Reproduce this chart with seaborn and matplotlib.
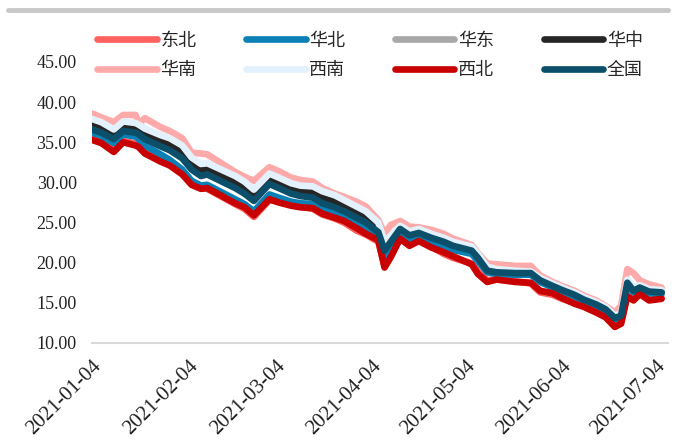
import pandas as pd
import matplotlib.pyplot as plt
import matplotlib.dates as mdates
from matplotlib.lines import Line2D
import seaborn as sns

# Datas (eixo comum a todas as regiões)
datas = ['2021-01-04', '2021-01-07', '2021-01-11', '2021-01-14', '2021-01-18', '2021-01-19',
         '2021-01-21', '2021-01-26', '2021-01-29', '2021-02-02', '2021-02-05', '2021-02-08',
         '2021-02-10', '2021-02-19', '2021-02-22', '2021-02-25', '2021-03-02', '2021-03-05',
         '2021-03-09', '2021-03-12', '2021-03-16', '2021-03-19', '2021-03-23', '2021-03-26',
         '2021-03-30', '2021-04-02', '2021-04-06', '2021-04-08', '2021-04-10', '2021-04-13',
         '2021-04-16', '2021-04-19', '2021-04-23', '2021-04-27', '2021-04-30', '2021-05-06',
         '2021-05-08', '2021-05-11', '2021-05-14', '2021-05-20', '2021-05-25', '2021-05-28',
         '2021-06-01', '2021-06-04', '2021-06-08', '2021-06-11', '2021-06-15', '2021-06-18',
         '2021-06-21', '2021-06-23', '2021-06-25', '2021-06-27', '2021-06-29', '2021-07-02',
         '2021-07-06']

dongbei = [35.5, 35.0, 34.0, 35.2, 34.8, 34.5, 33.8, 32.8, 32.2, 31.2, 29.9, 29.3, 29.2, 27.3,
           26.7, 25.7, 27.8, 27.6, 27.3, 27.0, 26.7, 26.0, 25.5, 25.0, 24.0, 23.5, 22.6, 19.6,
           20.9, 23.1, 22.3, 22.8, 22.0, 21.1, 20.6, 19.9, 18.9, 17.8, 18.0, 17.7, 17.4, 16.3,
           16.0, 15.5, 15.0, 14.6, 14.0, 13.4, 12.3, 12.6, 16.0, 15.5, 16.2, 15.5, 15.6]
huabei = [36.2, 35.8, 34.9, 36.0, 35.7, 35.4, 34.6, 33.5, 32.8, 31.6, 30.2, 29.6, 29.7, 27.9,
          27.3, 26.4, 28.5, 28.1, 27.6, 27.4, 27.3, 26.7, 26.2, 25.8, 24.9, 24.4, 23.3, 20.9,
          22.0, 23.8, 22.9, 23.3, 22.6, 22.1, 21.6, 21.1, 20.2, 18.8, 18.6, 18.5, 18.5, 17.6,
          16.9, 16.4, 15.8, 15.2, 14.6, 14.0, 12.9, 13.2, 17.2, 16.3, 16.7, 16.2, 16.1]
huadong = [37.6, 37.1, 36.1, 37.2, 36.9, 36.6, 35.9, 35.0, 34.6, 33.6, 32.1, 31.3, 31.4, 29.8,
           29.1, 28.1, 30.2, 29.7, 29.1, 28.8, 28.7, 28.0, 27.5, 26.9, 26.1, 25.5, 24.2, 21.9,
           22.9, 24.4, 23.6, 23.9, 23.3, 22.8, 22.3, 21.8, 21.0, 19.6, 19.4, 19.2, 19.0, 18.0,
           17.4, 16.9, 16.4, 15.8, 15.1, 14.5, 13.4, 13.7, 17.6, 16.9, 17.1, 16.7, 16.6]
huazhong = [37.4, 37.0, 36.0, 37.1, 36.8, 36.6, 36.0, 35.2, 34.8, 33.8, 32.3, 31.5, 31.6, 30.0,
            29.3, 28.3, 30.4, 29.9, 29.2, 28.9, 28.8, 28.1, 27.6, 27.0, 26.2, 25.6, 24.3, 22.0,
            23.0, 24.4, 23.7, 24.0, 23.4, 22.9, 22.4, 21.8, 20.9, 19.3, 19.0, 18.9, 18.8, 17.9,
            17.3, 16.8, 16.2, 15.6, 15.0, 14.4, 13.3, 13.6, 17.7, 16.7, 17.0, 16.5, 16.4]
huanan = [38.6, 38.1, 37.5, 38.4, 38.4, 37.3, 38.0, 36.9, 36.4, 35.5, 33.7, 33.6, 33.5, 31.3,
          30.7, 30.2, 31.9, 31.4, 30.6, 30.3, 30.1, 29.3, 28.6, 28.2, 27.6, 27.0, 25.3, 23.6,
          24.7, 25.2, 24.5, 24.4, 24.1, 23.6, 23.0, 22.2, 21.2, 19.9, 19.8, 19.6, 19.6, 18.4,
          17.6, 17.1, 16.5, 15.9, 15.3, 14.6, 13.8, 14.6, 19.2, 18.7, 17.8, 17.3, 16.9]
xinan = [37.9, 37.5, 36.6, 37.6, 37.4, 37.2, 36.7, 35.9, 35.5, 34.6, 33.1, 32.3, 32.4, 30.8,
         30.1, 29.1, 31.1, 30.6, 29.9, 29.6, 29.5, 28.9, 28.4, 27.8, 27.0, 26.4, 25.0, 22.6,
         23.4, 24.6, 23.9, 24.2, 23.6, 23.1, 22.6, 22.0, 21.1, 19.5, 19.2, 19.0, 18.9, 18.1,
         17.4, 16.9, 16.3, 15.7, 15.1, 14.5, 13.4, 13.7, 17.9, 17.0, 17.2, 16.7, 16.6]
xibei = [35.3, 34.9, 33.8, 35.0, 34.6, 34.4, 33.6, 32.6, 32.1, 31.0, 29.7, 29.2, 29.3, 27.4,
         26.9, 25.9, 27.9, 27.5, 27.1, 26.9, 26.8, 26.1, 25.6, 25.2, 24.3, 23.6, 22.8, 19.4,
         20.7, 23.0, 22.1, 22.7, 21.9, 21.3, 20.8, 19.8, 18.6, 17.6, 17.9, 17.6, 17.5, 16.5,
         16.2, 15.6, 14.9, 14.5, 13.8, 13.2, 12.0, 12.4, 15.8, 15.3, 16.1, 15.3, 15.5]
quanguo = [36.6, 36.2, 35.4, 36.4, 36.2, 36.0, 35.4, 34.5, 34.0, 33.0, 31.6, 30.8, 31.0, 29.3,
           28.6, 27.7, 29.8, 29.3, 28.6, 28.3, 28.1, 27.4, 26.9, 26.4, 25.6, 25.0, 23.8, 21.5,
           22.6, 24.2, 23.4, 23.7, 23.1, 22.6, 22.1, 21.5, 20.6, 19.0, 18.8, 18.7, 18.7, 17.8,
           17.1, 16.6, 16.0, 15.4, 14.8, 14.2, 13.1, 13.4, 17.5, 16.5, 16.9, 16.4, 16.3]

regioes = ['东北', '华北', '华东', '华中', '华南', '西南', '西北', '全国']
series = [dongbei, huabei, huadong, huazhong, huanan, xinan, xibei, quanguo]
cores = ['#ff6060', '#0a80b4', '#a8a8a8', '#262626', '#ffaaaa', '#e2f1fb', '#c80000', '#0b4f6b']
ticks = ['2021-01-04', '2021-02-04', '2021-03-04', '2021-04-04', '2021-05-04',
         '2021-06-04', '2021-07-04']

# Tabela longa para o seaborn
df = pd.concat([pd.DataFrame({'data': pd.to_datetime(datas), 'valor': v, 'regiao': r})
                for r, v in zip(regioes, series)], ignore_index=True)

sns.set_style('white')
plt.rcParams['font.family'] = ['Liberation Serif', 'Noto Sans CJK SC']

fig = plt.figure(figsize=(6.75, 4.46), dpi=100)
ax = fig.add_axes([0.1363, 0.231, 0.853, 0.630])

sns.lineplot(data=df, x='data', y='valor', hue='regiao', hue_order=regioes,
             palette=dict(zip(regioes, cores)), linewidth=4.8, ax=ax)

handles, labels = ax.get_legend_handles_labels()
ax.get_legend().remove()

# reordenar para preencher por linha (4 colunas)
ordem = [0, 4, 1, 5, 2, 6, 3, 7]
fig.legend([handles[i] for i in ordem], [labels[i] for i in ordem], ncol=4,
           loc='upper left', bbox_to_anchor=(0.144, 0.927), frameon=False,
           fontsize=13, handlelength=3.3, handletextpad=0.2, columnspacing=2.75,
           labelspacing=0.7, borderpad=0, borderaxespad=0)

ax.set_ylim(10, 45)
ax.set_yticks(range(10, 46, 5))
ax.yaxis.set_major_formatter(plt.FormatStrFormatter('%.2f'))
ax.set_xlim(pd.Timestamp('2021-01-04'), pd.Timestamp('2021-07-08'))
ax.set_xticks(pd.to_datetime(ticks))
ax.xaxis.set_major_formatter(mdates.DateFormatter('%Y-%m-%d'))
plt.setp(ax.get_xticklabels(), rotation=45, ha='right', rotation_mode='anchor')

ax.set_xlabel('')
ax.set_ylabel('')
for lado in ['top', 'right', 'left']:
    ax.spines[lado].set_visible(False)
ax.spines['bottom'].set_color('#d9d9d9')
ax.spines['bottom'].set_linewidth(1.5)
ax.tick_params(axis='y', length=0, pad=11, labelsize=13, labelcolor='#222222')
ax.tick_params(axis='x', length=6, width=1.5, color='#d9d9d9', direction='out',
               pad=4, labelsize=15, labelcolor='#222222')

# barra cinza no topo
fig.add_artist(Line2D([0.012, 0.99], [0.977, 0.977], color='#c8c8c8', linewidth=3.5))

fig.savefig('out.png', dpi=100)
